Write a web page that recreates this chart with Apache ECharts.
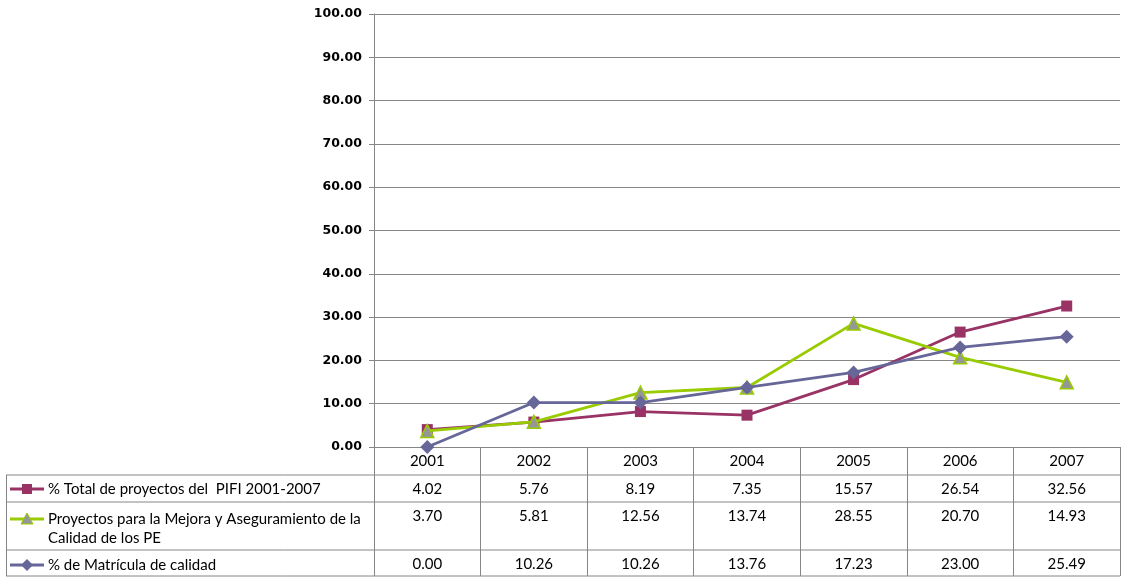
<!DOCTYPE html>
<html>
<head>
<meta charset="utf-8">
<script src="https://cdn.jsdelivr.net/npm/echarts@6/dist/echarts.min.js"></script>
<style>html,body{margin:0;padding:0;background:#fff;}#c{width:1127px;height:580px;}</style>
</head>
<body>
<div id="c"></div>
<script>
const years = ['2001', '2002', '2003', '2004', '2005', '2006', '2007'];
const totalPIFI = [4.02, 5.76, 8.19, 7.35, 15.57, 26.54, 32.56];
const mejora = [3.70, 5.81, 12.56, 13.74, 28.55, 20.70, 14.93];
const matricula = [0.00, 10.26, 10.26, 13.76, 17.23, 23.00, 25.49];
const seriesNames = ['% Total de proyectos del  PIFI 2001-2007',
  'Proyectos para la Mejora y Aseguramiento de la Calidad de los PE',
  '% de Matrícula de calidad'];
const legendLines = [['% Total de proyectos del  PIFI 2001-2007'],
  ['Proyectos para la Mejora y Aseguramiento de la', 'Calidad de los PE'],
  ['% de Matrícula de calidad']];
const yMin = 0, yMax = 100, yStep = 10;

const C1 = '#993366', C2 = '#99CC00', C2m = '#969696', C3 = '#666699';
const GRID = '#868686';
const tableFont = 'Lato';

const chart = echarts.init(document.getElementById('c'));

function rowAxis(vals, offset) {
  return {
    type: 'category', data: vals.map(v => v.toFixed(2)), position: 'bottom', offset: offset,
    gridIndex: 0, boundaryGap: true,
    axisLine: {show: false}, axisTick: {show: false}, splitLine: {show: false},
    axisLabel: {interval: 0, margin: 7, color: '#000', fontFamily: tableFont, fontSize: 15}
  };
}

const rowsY = [489, 519, 565];
const legendGraphics = [];
[475, 502, 550, 576].forEach(y => legendGraphics.push({
  type: 'line', shape: {x1: 6, y1: y, x2: 1120, y2: y}, style: {stroke: GRID, lineWidth: 1}
}));
legendGraphics.push({type: 'line', shape: {x1: 6.5, y1: 475, x2: 6.5, y2: 576}, style: {stroke: GRID, lineWidth: 1}});
const keyColors = [C1, C2, C3];
rowsY.forEach((y, i) => {
  legendGraphics.push({type: 'line', shape: {x1: 10, y1: y, x2: 44, y2: y}, style: {stroke: keyColors[i], lineWidth: 3}});
  if (i === 0) legendGraphics.push({type: 'rect', shape: {x: 22, y: y - 5, width: 10, height: 10}, style: {fill: C1}});
  if (i === 1) legendGraphics.push({type: 'polygon', shape: {points: [[27, y - 6], [33, y + 5], [21, y + 5]]}, style: {fill: C2m, stroke: C2, lineWidth: 1}});
  if (i === 2) legendGraphics.push({type: 'polygon', shape: {points: [[27, y - 6], [33, y], [27, y + 6], [21, y]]}, style: {fill: C3}});
  legendLines[i].forEach((t, j) => legendGraphics.push({
    type: 'text', x: 48, y: y + j * 19, style: {text: t, fill: '#000', font: '15px ' + tableFont, textVerticalAlign: 'middle'}
  }));
});

chart.setOption({
  animation: false,
  backgroundColor: '#fff',
  grid: {left: 374, right: 7, top: 14, bottom: 133, containLabel: false},
  xAxis: [
    {
      type: 'category', data: years, boundaryGap: true,
      axisLine: {lineStyle: {color: GRID, width: 1}},
      axisTick: {show: true, interval: 0, length: 129, lineStyle: {color: GRID}},
      axisLabel: {interval: 0, margin: 7, color: '#000', fontFamily: tableFont, fontSize: 15},
      splitLine: {show: false}
    },
    rowAxis(totalPIFI, 28),
    rowAxis(mejora, 55),
    rowAxis(matricula, 103)
  ],
  yAxis: {
    type: 'value', min: yMin, max: yMax, interval: yStep,
    axisLine: {show: true, lineStyle: {color: GRID}},
    axisTick: {show: true, length: 5, lineStyle: {color: GRID}},
    axisLabel: {margin: 12, color: '#000', fontFamily: 'DejaVu Sans', fontWeight: 'bold', fontSize: 12.5,
      formatter: v => v.toFixed(2)},
    splitLine: {lineStyle: {color: GRID, width: 1}}
  },
  series: [
    {name: seriesNames[0], type: 'line', data: totalPIFI, symbol: 'rect', symbolSize: 11,
      lineStyle: {color: C1, width: 2.8}, itemStyle: {color: C1}, z: 3},
    {name: seriesNames[1], type: 'line', data: mejora, symbol: 'triangle', symbolSize: 13,
      lineStyle: {color: C2, width: 2.8}, itemStyle: {color: C2m, borderColor: C2, borderWidth: 1.5}, z: 4},
    {name: seriesNames[2], type: 'line', data: matricula, symbol: 'diamond', symbolSize: 14,
      lineStyle: {color: C3, width: 2.8}, itemStyle: {color: C3}, z: 5}
  ],
  graphic: legendGraphics
});
</script>
</body>
</html>
